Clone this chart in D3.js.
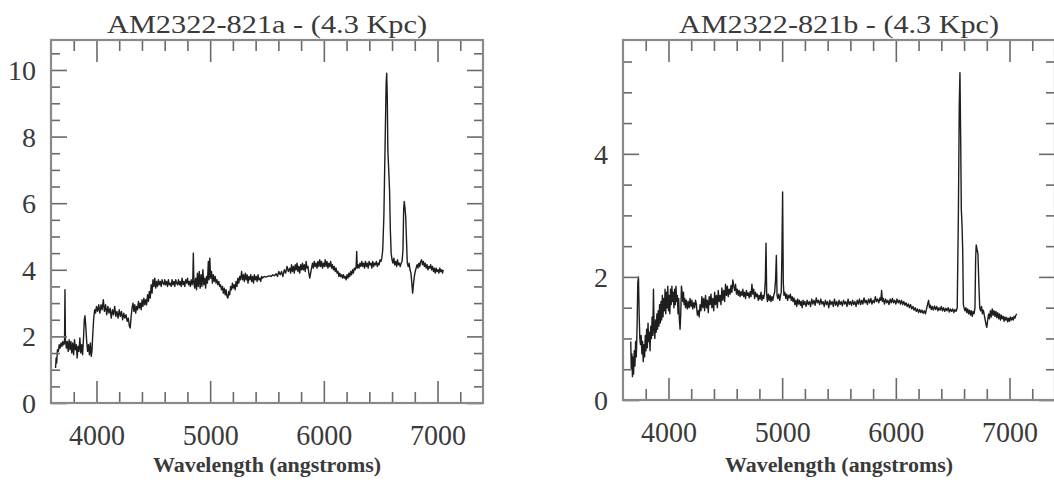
<!DOCTYPE html>
<meta charset="utf-8" />
<style>
  body {
    background: #fff;
    margin: 0px;
  }
  .frame {
    fill: none;
    stroke: #8a8a8a;
    stroke-width: 2.2px;
  }
  .tick line {
    stroke: #6a6a6a;
    stroke-width: 1.6px;
  }
  .tick text {
    font-family: "Liberation Serif", serif;
    fill: #3a3a3a;
  }
  .spectrum {
    fill: none;
    stroke: #1e1e1e;
    stroke-width: 1.4px;
    stroke-linejoin: round;
  }
  .title,
  .xlabel {
    font-family: "Liberation Serif", serif;
    fill: #3a3a3a;
  }
</style>
<body>
<script src="https://d3js.org/d3.v7.min.js"></script>
<script>
  var width = 1054,
    height = 484;

  var titles = ["AM2322-821a - (4.3 Kpc)", "AM2322-821b - (4.3 Kpc)"];
  var xLabel = "Wavelength (angstroms)";
  var xDomain = [3600, 7400];
  var xMajorTicks = [4000, 5000, 6000, 7000];
  var yDomainA = [0, 10.9],
    yDomainB = [0, 5.85];
  var yMajorTicksA = [0, 2, 4, 6, 8, 10],
    yMajorTicksB = [0, 2, 4];

  // [wavelength, flux]
  var spectrumA = [
    [3640,1.05],[3645,1.35],[3650,1.20],[3657,1.60],[3665,1.55],[3672,1.75],[3680,1.65],[3688,1.80],[3696,1.70],[3704,1.85],
    [3712,1.75],[3719,1.80],[3723,3.40],[3727,1.90],[3735,1.65],[3743,1.85],[3751,1.55],[3759,1.90],[3767,1.60],[3775,1.85],
    [3783,1.50],[3791,1.80],[3799,1.45],[3807,1.90],[3815,1.60],[3823,1.75],[3830,1.35],[3838,1.70],[3846,1.55],[3854,1.95],
    [3862,1.50],[3870,1.75],[3878,1.45],[3886,1.95],[3893,2.50],[3899,2.62],[3906,2.30],[3914,1.85],[3922,1.55],[3930,1.75],
    [3938,1.45],[3946,1.80],[3954,1.40],[3960,1.55],[3968,2.10],[3976,2.55],[3984,2.80],[3992,2.70],[4000,2.90],[4010,2.75],
    [4020,2.95],[4030,2.70],[4040,2.95],[4050,2.80],[4060,3.10],[4070,2.75],[4080,2.95],[4090,2.65],[4100,2.90],[4110,2.70],
    [4120,2.85],[4130,2.55],[4140,2.80],[4150,2.65],[4160,2.90],[4170,2.60],[4180,2.75],[4190,2.55],[4200,2.80],[4210,2.60],
    [4220,2.75],[4230,2.50],[4240,2.70],[4250,2.55],[4260,2.65],[4270,2.45],[4280,2.55],[4290,2.30],[4297,2.25],[4305,2.60],
    [4313,2.85],[4321,3.00],[4329,2.75],[4337,2.95],[4345,2.70],[4353,2.90],[4361,2.80],[4369,3.05],[4377,2.85],[4385,3.00],
    [4393,2.80],[4401,3.10],[4409,2.90],[4417,3.15],[4425,2.95],[4433,3.10],[4441,2.95],[4449,3.25],[4457,3.05],[4465,3.35],
    [4473,3.15],[4481,3.55],[4489,3.30],[4497,3.70],[4505,3.50],[4513,3.75],[4521,3.45],[4529,3.65],[4537,3.50],[4545,3.70],
    [4553,3.55],[4561,3.65],[4569,3.50],[4577,3.70],[4585,3.60],[4593,3.55],[4601,3.70],[4609,3.55],[4617,3.65],[4625,3.50],
    [4633,3.70],[4641,3.55],[4649,3.60],[4657,3.50],[4665,3.70],[4673,3.55],[4681,3.65],[4689,3.50],[4697,3.70],[4705,3.60],
    [4713,3.55],[4721,3.70],[4729,3.55],[4737,3.65],[4745,3.50],[4753,3.75],[4761,3.55],[4769,3.65],[4777,3.50],[4785,3.70],
    [4793,3.60],[4801,3.75],[4809,3.55],[4817,3.65],[4825,3.50],[4833,3.70],[4841,3.55],[4847,3.65],[4852,4.50],[4857,3.60],
    [4864,3.45],[4872,3.75],[4880,3.40],[4888,3.90],[4896,3.50],[4904,3.95],[4912,3.45],[4920,3.85],[4928,3.50],[4936,4.00],
    [4944,3.55],[4952,3.75],[4960,3.45],[4968,3.80],[4976,3.60],[4984,4.25],[4990,3.70],[4997,4.35],[5004,3.75],[5012,3.95],
    [5020,3.60],[5028,3.85],[5036,3.65],[5044,3.80],[5052,3.60],[5060,3.70],[5068,3.55],[5076,3.65],[5084,3.50],[5092,3.55],
    [5100,3.40],[5108,3.50],[5116,3.30],[5124,3.45],[5132,3.25],[5140,3.40],[5148,3.20],[5156,3.15],[5164,3.35],[5172,3.25],
    [5180,3.50],[5188,3.40],[5196,3.60],[5204,3.45],[5212,3.55],[5220,3.40],[5228,3.65],[5236,3.50],[5244,3.75],[5252,3.60],
    [5260,3.80],[5268,3.70],[5277,3.95],[5285,3.70],[5293,3.85],[5301,3.65],[5309,3.90],[5317,3.70],[5325,3.85],[5333,3.60],
    [5341,3.80],[5349,3.70],[5357,3.85],[5365,3.65],[5373,3.80],[5381,3.60],[5389,3.85],[5397,3.70],[5405,3.80],[5413,3.65],
    [5421,3.85],[5429,3.70],[5437,3.75],[5445,3.65],[5453,3.80],[5461,3.75],[5475,3.80],[5490,3.78],[5505,3.80],[5520,3.82],
    [5535,3.80],[5550,3.85],[5565,3.82],[5580,3.88],[5592,3.80],[5604,3.95],[5616,3.85],[5628,3.95],[5640,3.80],[5652,4.00],
    [5664,3.90],[5676,4.10],[5688,3.95],[5700,4.05],[5708,3.90],[5716,4.15],[5724,3.95],[5732,4.10],[5740,3.90],[5748,4.15],
    [5756,4.00],[5764,4.20],[5772,3.95],[5780,4.10],[5788,3.90],[5796,4.15],[5804,4.00],[5812,4.20],[5820,4.00],[5828,4.15],
    [5836,3.95],[5844,4.25],[5852,4.05],[5860,4.10],[5868,3.90],[5876,3.75],[5884,3.90],[5892,4.05],[5900,4.20],[5908,4.05],
    [5916,4.25],[5924,4.10],[5932,4.20],[5940,4.05],[5948,4.25],[5956,4.10],[5964,4.30],[5972,4.10],[5980,4.25],[5988,4.05],
    [5996,4.20],[6004,4.10],[6012,4.30],[6020,4.10],[6028,4.25],[6036,4.05],[6044,4.20],[6052,4.10],[6060,4.25],[6068,4.05],
    [6076,4.15],[6084,4.00],[6092,4.10],[6100,3.95],[6108,4.05],[6116,3.90],[6124,3.95],[6132,3.80],[6140,3.90],[6148,3.80],
    [6156,3.85],[6164,3.75],[6172,3.85],[6180,3.75],[6188,3.80],[6196,3.70],[6204,3.85],[6212,3.75],[6220,3.90],[6228,3.80],
    [6236,3.95],[6244,3.85],[6252,4.00],[6260,3.90],[6268,4.05],[6276,4.00],[6284,4.10],[6289,4.55],[6294,4.05],[6302,4.15],
    [6310,4.05],[6318,4.20],[6326,4.10],[6334,4.25],[6342,4.10],[6350,4.20],[6358,4.05],[6366,4.25],[6374,4.10],[6382,4.20],
    [6390,4.05],[6398,4.25],[6406,4.15],[6414,4.20],[6422,4.05],[6430,4.25],[6438,4.10],[6446,4.20],[6454,4.15],[6462,4.25],
    [6470,4.10],[6478,4.20],[6486,4.15],[6494,4.30],[6502,4.25],[6510,4.35],[6518,4.60],[6528,5.60],[6538,7.60],[6548,9.60],
    [6553,9.90],[6558,9.20],[6563,7.60],[6568,7.20],[6573,6.80],[6578,6.40],[6585,5.20],[6592,4.50],[6600,4.30],[6608,4.20],
    [6616,4.35],[6624,4.15],[6632,4.25],[6640,4.10],[6648,4.30],[6656,4.15],[6664,4.20],[6672,4.10],[6680,4.20],[6688,4.25],
    [6696,4.60],[6702,5.80],[6707,6.05],[6714,5.85],[6720,5.60],[6727,4.90],[6734,4.20],[6742,4.10],[6750,4.20],[6758,4.00],
    [6766,3.90],[6774,3.60],[6781,3.30],[6788,3.55],[6796,3.80],[6804,3.95],[6812,4.05],[6820,4.15],[6828,4.05],[6836,4.20],
    [6844,4.10],[6852,4.25],[6860,4.30],[6868,4.15],[6876,4.25],[6884,4.10],[6892,4.20],[6900,4.05],[6908,4.15],[6916,4.00],
    [6924,4.10],[6932,4.05],[6940,4.15],[6948,4.00],[6956,4.10],[6964,3.95],[6972,4.05],[6980,3.90],[6988,4.05],[6996,3.95],
    [7004,4.00],[7012,3.90],[7020,4.05],[7028,3.95],[7036,4.00],[7044,3.90],[7050,4.00]
  ];

  var spectrumB = [
    [3668,0.95],[3673,0.50],[3678,0.75],[3683,0.38],[3688,0.70],[3693,0.42],[3699,0.80],[3705,0.55],[3711,0.95],[3717,0.70],
    [3724,1.20],[3730,1.90],[3736,2.00],[3742,1.40],[3748,1.00],[3754,0.90],[3760,1.05],[3766,0.75],[3772,0.95],[3778,0.62],
    [3784,0.90],[3790,0.70],[3796,1.05],[3802,0.80],[3808,1.15],[3814,0.85],[3820,1.25],[3826,0.95],[3832,1.10],[3838,0.80],
    [3844,1.20],[3850,1.00],[3856,1.35],[3862,1.05],[3868,1.80],[3874,1.15],[3880,1.00],[3886,1.30],[3892,1.10],[3898,1.40],
    [3904,1.15],[3910,1.45],[3916,1.20],[3922,1.55],[3928,1.25],[3934,1.60],[3940,1.30],[3946,1.70],[3952,1.35],[3958,1.65],
    [3964,1.45],[3970,1.80],[3976,1.40],[3982,1.75],[3988,1.50],[3994,1.85],[4000,1.45],[4006,1.70],[4012,1.40],[4018,1.80],
    [4024,1.55],[4030,1.85],[4036,1.60],[4042,1.75],[4048,1.50],[4054,1.80],[4060,1.55],[4066,1.85],[4072,1.60],[4078,1.70],
    [4084,1.40],[4090,1.65],[4096,1.30],[4102,1.15],[4108,1.40],[4114,1.85],[4120,1.75],[4126,1.60],[4132,1.75],[4138,1.55],
    [4144,1.65],[4150,1.50],[4158,1.62],[4166,1.48],[4174,1.60],[4182,1.50],[4190,1.65],[4198,1.52],[4206,1.62],[4214,1.48],
    [4222,1.58],[4230,1.50],[4238,1.62],[4246,1.55],[4254,1.38],[4262,1.45],[4270,1.35],[4278,1.55],[4286,1.45],[4294,1.68],
    [4302,1.50],[4310,1.65],[4318,1.45],[4326,1.70],[4334,1.50],[4342,1.62],[4350,1.42],[4358,1.68],[4366,1.55],[4374,1.72],
    [4382,1.50],[4390,1.65],[4398,1.45],[4406,1.75],[4414,1.55],[4422,1.70],[4430,1.50],[4438,1.78],[4446,1.60],[4454,1.70],
    [4462,1.55],[4470,1.82],[4478,1.62],[4486,1.78],[4494,1.60],[4502,1.88],[4510,1.70],[4518,1.85],[4526,1.68],[4534,1.80],
    [4542,1.72],[4550,1.86],[4558,1.75],[4566,1.95],[4574,1.85],[4582,1.78],[4590,1.88],[4598,1.72],[4606,1.80],[4614,1.70],
    [4622,1.78],[4630,1.68],[4638,1.76],[4646,1.70],[4654,1.80],[4662,1.68],[4670,1.75],[4678,1.65],[4686,1.78],[4694,1.70],
    [4702,1.74],[4710,1.66],[4718,1.76],[4726,1.68],[4734,1.88],[4742,1.72],[4750,1.80],[4758,1.65],[4766,1.75],[4774,1.68],
    [4782,1.72],[4790,1.62],[4798,1.70],[4806,1.64],[4814,1.75],[4822,1.62],[4830,1.70],[4838,1.65],[4846,1.75],[4852,1.95],
    [4858,2.55],[4864,1.70],[4870,1.60],[4878,1.72],[4886,1.62],[4894,1.70],[4902,1.60],[4910,1.68],[4918,1.62],[4926,1.70],
    [4934,1.75],[4942,1.95],[4949,2.35],[4955,1.70],[4962,1.65],[4970,1.72],[4978,1.62],[4986,1.70],[4992,1.75],[4998,2.40],
    [5004,3.38],[5010,1.90],[5016,1.70],[5024,1.75],[5032,1.65],[5040,1.72],[5048,1.62],[5056,1.70],[5064,1.66],[5072,1.72],
    [5080,1.62],[5088,1.68],[5096,1.60],[5104,1.66],[5112,1.55],[5120,1.62],[5128,1.52],[5136,1.64],[5144,1.56],[5152,1.62],
    [5160,1.54],[5168,1.60],[5176,1.50],[5184,1.62],[5192,1.55],[5200,1.60],[5210,1.52],[5220,1.62],[5230,1.55],[5240,1.60],
    [5250,1.52],[5260,1.64],[5270,1.56],[5280,1.62],[5290,1.54],[5300,1.66],[5310,1.58],[5320,1.62],[5330,1.55],[5340,1.64],
    [5350,1.56],[5360,1.60],[5370,1.52],[5380,1.62],[5390,1.55],[5400,1.60],[5410,1.50],[5420,1.62],[5430,1.55],[5440,1.60],
    [5450,1.52],[5460,1.64],[5470,1.54],[5480,1.60],[5490,1.52],[5500,1.62],[5510,1.55],[5520,1.60],[5530,1.53],[5540,1.62],
    [5550,1.56],[5560,1.60],[5570,1.52],[5580,1.64],[5590,1.55],[5600,1.60],[5610,1.54],[5620,1.62],[5630,1.55],[5640,1.60],
    [5650,1.52],[5660,1.62],[5670,1.56],[5680,1.64],[5690,1.55],[5700,1.62],[5710,1.56],[5720,1.66],[5730,1.58],[5740,1.62],
    [5750,1.55],[5760,1.64],[5770,1.58],[5780,1.65],[5790,1.56],[5800,1.62],[5810,1.58],[5820,1.68],[5830,1.60],[5840,1.64],
    [5850,1.58],[5860,1.66],[5868,1.62],[5875,1.78],[5882,1.60],[5890,1.65],[5900,1.56],[5910,1.64],[5920,1.58],[5930,1.62],
    [5940,1.55],[5950,1.64],[5960,1.58],[5970,1.65],[5980,1.58],[5990,1.62],[6000,1.56],[6010,1.64],[6020,1.58],[6030,1.62],
    [6040,1.56],[6050,1.62],[6060,1.55],[6070,1.60],[6080,1.54],[6090,1.58],[6100,1.52],[6110,1.56],[6120,1.50],[6130,1.55],
    [6140,1.48],[6150,1.52],[6160,1.46],[6170,1.50],[6180,1.44],[6190,1.48],[6200,1.42],[6210,1.47],[6220,1.42],[6230,1.46],
    [6240,1.41],[6250,1.45],[6260,1.40],[6270,1.48],[6280,1.56],[6288,1.62],[6296,1.50],[6304,1.54],[6312,1.47],[6320,1.52],
    [6330,1.46],[6340,1.53],[6350,1.47],[6360,1.52],[6370,1.45],[6380,1.50],[6390,1.46],[6400,1.52],[6410,1.45],[6420,1.50],
    [6430,1.44],[6440,1.49],[6450,1.45],[6460,1.50],[6470,1.43],[6480,1.48],[6490,1.44],[6500,1.48],[6510,1.42],[6520,1.47],
    [6530,1.44],[6540,1.50],[6550,3.00],[6558,4.80],[6564,5.32],[6570,4.30],[6576,3.10],[6582,2.85],[6588,2.45],[6594,1.55],
    [6600,1.50],[6608,1.45],[6616,1.50],[6624,1.42],[6632,1.48],[6640,1.40],[6648,1.46],[6656,1.38],[6664,1.45],[6672,1.36],
    [6680,1.44],[6688,1.40],[6696,1.50],[6702,2.30],[6707,2.52],[6714,2.45],[6722,2.38],[6730,1.90],[6738,1.50],[6746,1.45],
    [6754,1.52],[6762,1.40],[6770,1.46],[6778,1.38],[6786,1.30],[6794,1.22],[6800,1.18],[6808,1.30],[6816,1.40],[6824,1.32],
    [6832,1.45],[6840,1.35],[6848,1.48],[6856,1.38],[6864,1.45],[6872,1.36],[6880,1.44],[6888,1.34],[6896,1.42],[6904,1.32],
    [6912,1.40],[6920,1.30],[6928,1.38],[6936,1.32],[6944,1.36],[6952,1.28],[6960,1.35],[6968,1.30],[6976,1.34],[6984,1.27],
    [6992,1.33],[7000,1.28],[7008,1.35],[7016,1.30],[7024,1.34],[7032,1.30],[7040,1.36],[7048,1.33],[7056,1.38],[7064,1.40]
  ];

  var panels = [
    { title: titles[0], data: spectrumA, yDomain: yDomainA, yTicks: yMajorTicksA,
      left: 51, right: 483, top: 40, bottom: 403 },
    { title: titles[1], data: spectrumB, yDomain: yDomainB, yTicks: yMajorTicksB,
      left: 623, right: 1055, top: 40, bottom: 400 },
  ];

  var fmt = d3.format("d");

  var svg = d3
    .select("body")
    .append("svg")
    .attr("width", width)
    .attr("height", height);

  panels.forEach(function (p) {
    var x = d3.scaleLinear().domain(xDomain).range([p.left, p.right]);
    var y = d3.scaleLinear().domain(p.yDomain).range([p.bottom, p.top]);

    var xMinor = d3.range(3800, 7400, 200).filter(function (v) {
      return xMajorTicks.indexOf(v) < 0;
    });
    var yMinor = d3.range(0.5, p.yDomain[1], 0.5).filter(function (v) {
      return v % 2 !== 0;
    });
    var yMajorAll = d3.range(0, p.yDomain[1], 2);

    var g = svg.append("g");

    // spectrum
    g.append("path")
      .datum(p.data)
      .attr("class", "spectrum")
      .attr(
        "d",
        d3
          .line()
          .x(function (d) { return x(d[0]); })
          .y(function (d) { return y(d[1]); })
      );

    // bottom: major with labels, minor without
    var bottom = g.append("g").attr("transform", "translate(0," + p.bottom + ")");
    bottom.call(d3.axisBottom(x).tickValues(xMajorTicks).tickFormat(fmt).tickSizeInner(-22).tickSizeOuter(0).tickPadding(0));
    bottom.append("g").call(d3.axisBottom(x).tickValues(xMinor).tickSizeInner(-11).tickSizeOuter(0).tickFormat(""));
    bottom.selectAll(".tick text")
      .attr("y", 42)
      .attr("dy", null)
      .attr("font-size", 29)
      .attr("textLength", 56)
      .attr("lengthAdjust", "spacingAndGlyphs");

    var top = g.append("g").attr("transform", "translate(0," + p.top + ")");
    top.call(d3.axisTop(x).tickValues(xMajorTicks).tickSizeInner(-22).tickSizeOuter(0).tickFormat(""));
    top.append("g").call(d3.axisTop(x).tickValues(xMinor).tickSizeInner(-11).tickSizeOuter(0).tickFormat(""));

    var left = g.append("g").attr("transform", "translate(" + p.left + ",0)");
    left.call(d3.axisLeft(y).tickValues(p.yTicks).tickFormat(fmt).tickSizeInner(-16).tickSizeOuter(0).tickPadding(15));
    left.append("g").call(d3.axisLeft(y).tickValues(yMinor).tickSizeInner(-9).tickSizeOuter(0).tickFormat(""));
    left.selectAll(".tick text")
      .attr("font-size", 28)
      .attr("dy", "0.34em");

    var right = g.append("g").attr("transform", "translate(" + p.right + ",0)");
    right.call(d3.axisRight(y).tickValues(yMajorAll).tickSizeInner(-16).tickSizeOuter(0).tickFormat(""));
    right.append("g").call(d3.axisRight(y).tickValues(yMinor).tickSizeInner(-9).tickSizeOuter(0).tickFormat(""));

    g.selectAll(".domain").remove();

    g.append("rect")
      .attr("class", "frame")
      .attr("x", p.left)
      .attr("y", p.top)
      .attr("width", p.right - p.left)
      .attr("height", p.bottom - p.top);

    var cx = (p.left + p.right) / 2;
    g.append("text")
      .attr("class", "title")
      .attr("x", cx - 160)
      .attr("y", 33)
      .attr("font-size", 26)
      .attr("textLength", 320)
      .attr("lengthAdjust", "spacingAndGlyphs")
      .text(p.title);

    g.append("text")
      .attr("class", "xlabel")
      .attr("x", cx - 114)
      .attr("y", 472)
      .attr("font-size", 20)
      .attr("font-weight", "bold")
      .attr("textLength", 228)
      .attr("lengthAdjust", "spacingAndGlyphs")
      .text(xLabel);
  });
</script>
</body>
